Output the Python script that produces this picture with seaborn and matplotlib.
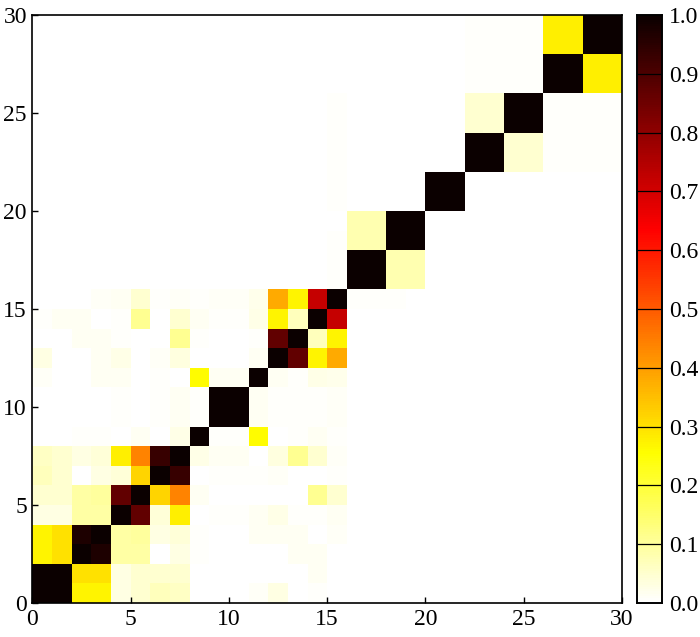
import numpy as np
import matplotlib
matplotlib.use("Agg")
import matplotlib.pyplot as plt
import seaborn as sns

plt.rcParams['font.family'] = ['Liberation Serif', 'DejaVu Serif']
plt.rcParams['mathtext.fontset'] = 'stix'

# 30 x 30 correlation-like matrix, row index = y cell, column index = x cell
z = [0.0] * 14
matrix_rows = [
    [1.00, 1.00, 0.27, 0.27, 0.03, 0.05, 0.07, 0.06, 0.00, 0.00, 0.00, 0.01, 0.03, 0.00, 0.006, 0.00] + z,
    [1.00, 1.00, 0.30, 0.30, 0.03, 0.05, 0.05, 0.05, 0.00, 0.00, 0.00, 0.00, 0.00, 0.00, 0.015, 0.00] + z,
    [0.27, 0.30, 1.00, 0.97, 0.09, 0.09, 0.00, 0.03, 0.006, 0.00, 0.00, 0.00, 0.00, 0.015, 0.015, 0.00] + z,
    [0.27, 0.30, 0.97, 1.00, 0.09, 0.10, 0.03, 0.04, 0.006, 0.00, 0.00, 0.015, 0.015, 0.015, 0.00, 0.01] + z,
    [0.03, 0.03, 0.09, 0.09, 1.00, 0.87, 0.04, 0.28, 0.00, 0.006, 0.006, 0.015, 0.025, 0.006, 0.006, 0.015] + z,
    [0.05, 0.05, 0.09, 0.10, 0.87, 1.00, 0.32, 0.44, 0.015, 0.00, 0.00, 0.00, 0.00, 0.00, 0.11, 0.05] + z,
    [0.07, 0.05, 0.00, 0.03, 0.04, 0.32, 1.00, 0.93, 0.00, 0.006, 0.006, 0.006, 0.01, 0.00, 0.00, 0.006] + z,
    [0.06, 0.05, 0.03, 0.04, 0.28, 0.44, 0.93, 1.00, 0.025, 0.015, 0.015, 0.00, 0.035, 0.11, 0.05, 0.01] + z,
    [0.00, 0.00, 0.006, 0.006, 0.00, 0.015, 0.00, 0.025, 1.00, 0.006, 0.006, 0.26, 0.00, 0.006, 0.015, 0.006] + z,
    [0.00, 0.00, 0.00, 0.00, 0.006, 0.00, 0.006, 0.015, 0.006, 1.00, 1.00, 0.015, 0.006, 0.006, 0.006, 0.01] + z,
    [0.00, 0.00, 0.00, 0.00, 0.006, 0.00, 0.006, 0.015, 0.006, 1.00, 1.00, 0.015, 0.006, 0.006, 0.006, 0.01] + z,
    [0.01, 0.00, 0.00, 0.015, 0.015, 0.00, 0.006, 0.00, 0.26, 0.015, 0.015, 1.00, 0.015, 0.006, 0.025, 0.02] + z,
    [0.03, 0.00, 0.00, 0.015, 0.025, 0.00, 0.01, 0.035, 0.00, 0.00, 0.00, 0.015, 1.00, 0.87, 0.27, 0.38] + z,
    [0.00, 0.00, 0.015, 0.015, 0.006, 0.00, 0.00, 0.11, 0.006, 0.00, 0.00, 0.006, 0.87, 1.00, 0.07, 0.27] + z,
    [0.006, 0.015, 0.015, 0.00, 0.006, 0.11, 0.00, 0.05, 0.015, 0.006, 0.006, 0.025, 0.27, 0.07, 1.00, 0.72] + z,
    [0.00, 0.00, 0.00, 0.01, 0.015, 0.05, 0.006, 0.01, 0.006, 0.01, 0.01, 0.02, 0.38, 0.27, 0.72, 1.00,
     0.005, 0.005, 0.005, 0, 0, 0, 0, 0, 0, 0, 0, 0, 0, 0],
    [0] * 15 + [0.005, 1.00, 1.00, 0.08, 0.08, 0, 0, 0, 0, 0, 0, 0, 0, 0, 0],
    [0] * 15 + [0.005, 1.00, 1.00, 0.08, 0.08, 0, 0, 0, 0, 0, 0, 0, 0, 0, 0],
    [0] * 15 + [0.005, 0.08, 0.08, 1.00, 1.00, 0, 0, 0, 0, 0, 0, 0, 0, 0, 0],
    [0] * 15 + [0.00, 0.08, 0.08, 1.00, 1.00, 0, 0, 0, 0, 0, 0, 0, 0, 0, 0],
    [0] * 15 + [0.005, 0, 0, 0, 0, 1.00, 1.00, 0, 0, 0, 0, 0, 0, 0, 0],
    [0] * 15 + [0.005, 0, 0, 0, 0, 1.00, 1.00, 0, 0, 0, 0, 0, 0, 0, 0],
    [0] * 15 + [0.005, 0, 0, 0, 0, 0, 0, 1.00, 1.00, 0.05, 0.05, 0.005, 0.005, 0.005, 0.005],
    [0] * 15 + [0.005, 0, 0, 0, 0, 0, 0, 1.00, 1.00, 0.05, 0.05, 0.005, 0.005, 0.005, 0.005],
    [0] * 15 + [0.005, 0, 0, 0, 0, 0, 0, 0.05, 0.05, 1.00, 1.00, 0.005, 0.005, 0.005, 0.005],
    [0] * 15 + [0.005, 0, 0, 0, 0, 0, 0, 0.05, 0.05, 1.00, 1.00, 0.005, 0.005, 0.005, 0.005],
    [0] * 15 + [0.00, 0, 0, 0, 0, 0, 0, 0.005, 0.005, 0.005, 0.005, 1.00, 1.00, 0.28, 0.28],
    [0] * 15 + [0.00, 0, 0, 0, 0, 0, 0, 0.005, 0.005, 0.005, 0.005, 1.00, 1.00, 0.28, 0.28],
    [0] * 15 + [0.00, 0, 0, 0, 0, 0, 0, 0.005, 0.005, 0.005, 0.005, 0.28, 0.28, 1.00, 1.00],
    [0] * 15 + [0.00, 0, 0, 0, 0, 0, 0, 0.005, 0.005, 0.005, 0.005, 0.28, 0.28, 1.00, 1.00],
]

x_ticks = [0, 5, 10, 15, 20, 25, 30]
y_ticks = [0, 5, 10, 15, 20, 25, 30]
cbar_ticks = [0.0, 0.1, 0.2, 0.3, 0.4, 0.5, 0.6, 0.7, 0.8, 0.9, 1.0]

data = np.array(matrix_rows, dtype=float)

fig = plt.figure(figsize=(7.0, 6.37), dpi=100)
ax = fig.add_axes([0.0464, 0.0534, 0.8421, 0.9231])
cax = fig.add_axes([0.9096, 0.0534, 0.0357, 0.9231])

sns.heatmap(data, ax=ax, cbar_ax=cax, cmap="hot_r", vmin=0, vmax=1,
            square=False, xticklabels=False, yticklabels=False,
            cbar_kws={"ticks": cbar_ticks})

ax.set_xlim(0, 30)
ax.set_ylim(0, 30)
ax.set_xticks(x_ticks)
ax.set_yticks(y_ticks)
ax.set_xticklabels([str(t) for t in x_ticks], fontsize=17)
ax.set_yticklabels([str(t) for t in y_ticks], fontsize=17)
ax.tick_params(direction="in", length=4, width=1.0, top=False, right=False, pad=4)
for s in ax.spines.values():
    s.set_visible(True)
    s.set_linewidth(1.2)
    s.set_color("black")

cax.set_yticks(cbar_ticks)
cax.set_yticklabels([f"{t:.1f}" for t in cbar_ticks], fontsize=17)
cax.tick_params(length=0, pad=5)
cax.hlines(cbar_ticks[1:-1], 0, 1, transform=cax.get_yaxis_transform(),
           colors="black", linewidth=0.9)
for s in cax.spines.values():
    s.set_visible(True)
    s.set_linewidth(1.2)
cbar = ax.collections[0].colorbar
cbar.outline.set_linewidth(1.2)

fig.savefig("out.png", dpi=100)
